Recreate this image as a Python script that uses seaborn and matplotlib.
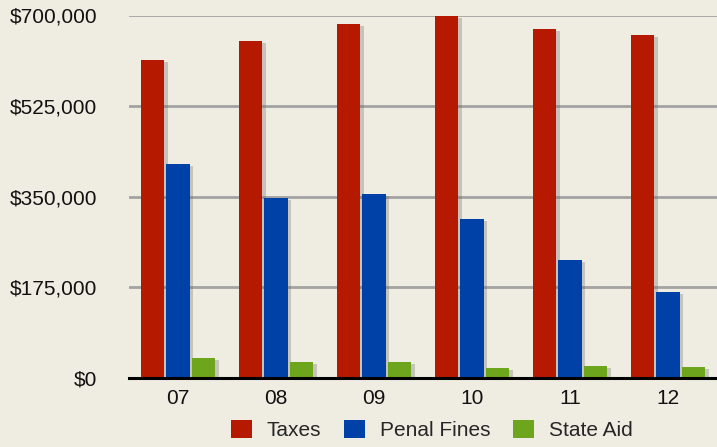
import matplotlib
matplotlib.use("Agg")
import matplotlib.pyplot as plt
import matplotlib.patheffects as pe
from matplotlib.patches import Patch
from matplotlib.ticker import FuncFormatter
import seaborn as sns
import pandas as pd

years = ["07", "08", "09", "10", "11", "12"]
taxes = [614000, 651000, 684000, 700000, 674000, 663000]
penal_fines = [414000, 348000, 355000, 307000, 228000, 166000]
state_aid = [38600, 31000, 31000, 19300, 23200, 21200]
series_names = ["Taxes", "Penal Fines", "State Aid"]
colors = ["#B51A00", "#0041A8", "#6DA61C"]
yticks = [0, 175000, 350000, 525000, 700000]

df = pd.DataFrame({
    "year": years * 3,
    "value": taxes + penal_fines + state_aid,
    "series": [series_names[0]] * 6 + [series_names[1]] * 6 + [series_names[2]] * 6,
})

sns.set_theme(style="white")
plt.rcParams["font.family"] = ["Liberation Sans", "DejaVu Sans"]

bg = "#EFECE2"
fig = plt.figure(figsize=(7.17, 4.47), dpi=100, facecolor=bg)
ax = fig.add_axes([129 / 717, 69 / 447, (717 - 129) / 717, (378 - 15.5) / 447])
ax.set_facecolor(bg)

sns.barplot(data=df, x="year", y="value", hue="series", order=years,
            hue_order=series_names, palette=colors, width=0.78, gap=0.06,
            saturation=1, legend=False, ax=ax, zorder=3)

for p in ax.patches:
    p.set_path_effects([pe.SimplePatchShadow(offset=(2.5, -1.5), shadow_rgbFace="#666666", alpha=0.3),
                        pe.Normal()])
    p.set_linewidth(0)

ax.set_ylim(0, 700000)
ax.set_xlim(-0.5, 5.5)
ax.set_yticks(yticks)
ax.yaxis.set_major_formatter(FuncFormatter(lambda v, _: f"${int(v):,}"))
ax.grid(axis="y", color="#A3A3A3", linewidth=2, zorder=0)
ax.set_axisbelow(True)
for s in ["top", "right", "left"]:
    ax.spines[s].set_visible(False)
ax.spines["bottom"].set_color("black")
ax.spines["bottom"].set_linewidth(2.2)
ax.spines["bottom"].set_zorder(5)
ax.tick_params(axis="y", length=0, pad=23, labelsize=15, labelcolor="#111111")
ax.tick_params(axis="x", length=0, pad=8, labelsize=15, labelcolor="#111111")
ax.set_xlabel("")
ax.set_ylabel("")

handles = [Patch(facecolor=c, edgecolor="none", label=n) for c, n in zip(colors, series_names)]
fig.legend(handles=handles, loc="center", bbox_to_anchor=(432 / 717, 1 - 430 / 447),
           ncol=3, frameon=False, fontsize=15, handlelength=1.0, handleheight=1.0,
           handletextpad=0.72, columnspacing=1.1, borderaxespad=0, borderpad=0)

fig.savefig("out.png", dpi=100, facecolor=bg)
